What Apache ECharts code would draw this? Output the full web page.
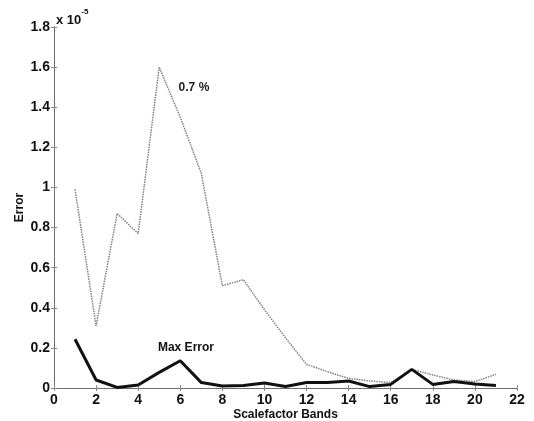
<!DOCTYPE html>
<html>
<head>
<meta charset="utf-8">
<script src="https://cdn.jsdelivr.net/npm/echarts@6/dist/echarts.min.js"></script>
<style>
  html, body { margin: 0; padding: 0; background: #fff; }
  #chart { width: 534px; height: 421px; }
</style>
</head>
<body>
<div id="chart"></div>
<script>
// bands 1..21, errors in units of 1e-5
var bands = [1, 2, 3, 4, 5, 6, 7, 8, 9, 10, 11, 12, 13, 14, 15, 16, 17, 18, 19, 20, 21]
var relError = [0.99, 0.31, 0.87, 0.77, 1.6, 1.35, 1.07, 0.51, 0.54, 0.39, 0.25, 0.118, 0.081, 0.048, 0.035, 0.027, 0.093, 0.065, 0.04, 0.032, 0.068]
var maxError = [0.243, 0.04, 0.003, 0.015, 0.078, 0.136, 0.027, 0.01, 0.013, 0.025, 0.007, 0.027, 0.027, 0.035, 0.007, 0.018, 0.093, 0.018, 0.032, 0.02, 0.012]
var xTicks = [0, 22, 2]
var yTicks = [0, 1.8, 0.2]

var font = 'Liberation Sans, Arial, sans-serif'
var chart = echarts.init(document.getElementById('chart'))

function pairs(ys) {
  return bands.map(function (b, i) { return [b, ys[i]] })
}

var frameLine = { show: true, lineStyle: { color: '#666', type: 'dotted', width: 1 } }

chart.setOption({
  backgroundColor: '#fff',
  animation: false,
  grid: { left: 54, top: 27, right: 17, bottom: 33, outerBoundsMode: 'none' },
  graphic: [{
    type: 'text',
    left: 56,
    top: 8,
    style: {
      text: '{a|x 10}{b|-5}',
      rich: {
        a: { fontFamily: font, fontWeight: 'bold', fontSize: 13, fill: '#111', padding: [6, 0, 0, 0] },
        b: { fontFamily: font, fontWeight: 'bold', fontSize: 8, fill: '#111', verticalAlign: 'top' }
      }
    }
  }],
  xAxis: [{
    type: 'value',
    min: xTicks[0], max: xTicks[1], interval: xTicks[2],
    name: 'Scalefactor Bands',
    nameLocation: 'middle',
    nameGap: 21,
    nameMoveOverlap: false,
    nameTextStyle: { fontFamily: font, fontWeight: 'bold', fontSize: 12, color: '#111' },
    axisLine: frameLine,
    axisTick: { inside: true, length: 3, lineStyle: { color: '#888' } },
    axisLabel: { fontFamily: font, fontWeight: 'bold', fontSize: 14, color: '#111', margin: 5 },
    splitLine: { show: false }
  }, {
    type: 'value', position: 'top',
    min: xTicks[0], max: xTicks[1], interval: xTicks[2],
    axisLine: frameLine,
    axisTick: { inside: true, length: 3, lineStyle: { color: '#888' } },
    axisLabel: { show: false },
    splitLine: { show: false }
  }],
  yAxis: [{
    type: 'value',
    min: yTicks[0], max: yTicks[1], interval: yTicks[2],
    name: 'Error',
    nameLocation: 'middle',
    nameGap: 28,
    nameMoveOverlap: false,
    nameTextStyle: { fontFamily: font, fontWeight: 'bold', fontSize: 12, color: '#111' },
    axisLine: frameLine,
    axisTick: { inside: true, length: 3, lineStyle: { color: '#888' } },
    axisLabel: {
      fontFamily: font, fontWeight: 'bold', fontSize: 14, color: '#111', margin: 4,
      formatter: function (v) { return String(Math.round(v * 10) / 10) }
    },
    splitLine: { show: false }
  }, {
    type: 'value', position: 'right',
    min: yTicks[0], max: yTicks[1], interval: yTicks[2],
    axisLine: frameLine,
    axisTick: { inside: true, length: 3, lineStyle: { color: '#888' } },
    axisLabel: { show: false },
    splitLine: { show: false }
  }],
  series: [{
    type: 'line',
    data: pairs(relError),
    symbol: 'none',
    lineStyle: { color: '#808080', width: 1.5, type: [1.5, 1] },
    markPoint: {
      symbol: 'circle', symbolSize: 0,
      label: { show: true, formatter: '0.7 %', fontFamily: font, fontWeight: 'bold', fontSize: 12, color: '#222' },
      data: [{ coord: [6.65, 1.495] }]
    }
  }, {
    type: 'line',
    data: pairs(maxError),
    symbol: 'none',
    lineStyle: { color: '#111', width: 3 },
    markPoint: {
      symbol: 'circle', symbolSize: 0,
      label: { show: true, formatter: 'Max Error', fontFamily: font, fontWeight: 'bold', fontSize: 12, color: '#111' },
      data: [{ coord: [6.27, 0.2] }]
    }
  }]
})
</script>
</body>
</html>
